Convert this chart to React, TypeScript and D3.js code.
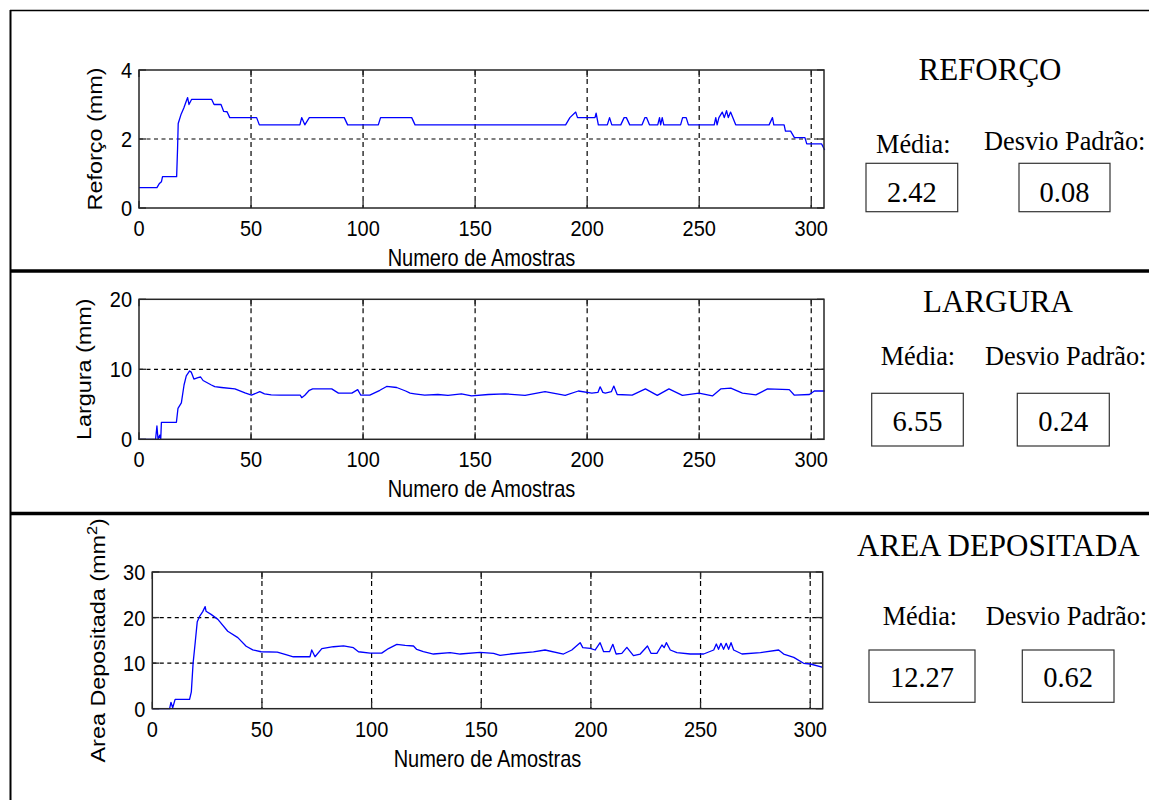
import React from 'react';
import * as d3 from 'd3';

// ---------- data ----------
const sampleTicks = [0, 50, 100, 150, 200, 250, 300];
const reforcoTicks = [0, 2, 4];
const larguraTicks = [0, 10, 20];
const areaTicks = [0, 10, 20, 30];

const reforcoX = [0, 8, 9, 10, 10.5, 16.8, 17.2, 17.5, 18.8, 20, 21, 21.7, 22.3, 23.5, 32.4, 33.5, 36.6, 37.8, 39.3, 40.5, 52.5, 53.7, 71.8, 72.6, 74, 76, 91.6, 93.1, 106.8, 107.8, 121.7, 123.2, 190.4, 192.3, 194.9, 195.7, 203.5, 204, 205, 209, 210, 211, 215, 216.5, 217.5, 219, 224.5, 225.8, 226.5, 227.8, 231.5, 232.3, 232.8, 233.5, 234.2, 241.7, 242.6, 244.2, 245.2, 256.7, 257.4, 258, 258.8, 260.3, 261.2, 262.2, 263, 264, 266.3, 281.2, 282.7, 283.3, 287.9, 288.5, 290.8, 292.5, 297.2, 298, 304.6, 306];
const reforcoY = [0.59, 0.59, 0.7, 0.76, 0.91, 0.91, 1.7, 2.45, 2.72, 2.9, 3.08, 3.2, 3.0, 3.15, 3.15, 3.0, 3.0, 2.8, 2.79, 2.62, 2.62, 2.41, 2.41, 2.62, 2.41, 2.62, 2.62, 2.41, 2.41, 2.62, 2.62, 2.41, 2.41, 2.62, 2.78, 2.62, 2.62, 2.75, 2.41, 2.41, 2.62, 2.41, 2.41, 2.62, 2.62, 2.41, 2.41, 2.62, 2.62, 2.41, 2.41, 2.62, 2.41, 2.62, 2.41, 2.41, 2.62, 2.62, 2.41, 2.41, 2.62, 2.41, 2.62, 2.78, 2.62, 2.82, 2.62, 2.78, 2.41, 2.41, 2.62, 2.41, 2.41, 2.23, 2.23, 2.04, 2.04, 1.86, 1.86, 1.68];

const larguraX = [0, 7.4, 8, 8.5, 9.3, 9.7, 10, 16.7, 17.4, 18.9, 20.1, 21.1, 22.6, 23.3, 24.5, 26.3, 27.5, 28.6, 32.3, 33.8, 36.8, 42.8, 47.3, 50.2, 53.9, 56, 59, 63, 72, 72.6, 74, 76, 77.5, 86, 89, 95, 97.6, 99, 103, 107.5, 110.5, 115, 119, 121, 123, 127.5, 133.4, 137.9, 143.9, 148.4, 155.9, 163.3, 172.3, 181.2, 190.2, 196.1, 202.1, 204.8, 205.8, 207, 208.1, 210.8, 211.9, 213.4, 220.1, 226, 231.3, 236.5, 242.5, 249.9, 255.9, 259.6, 264.1, 269.3, 275.3, 280.5, 290.2, 292.5, 299.2, 301.4, 306];
const larguraY = [0, 0, 1.9, 0, 0.6, 0, 2.43, 2.43, 4.43, 5.2, 7.76, 9.05, 9.76, 9.6, 8.6, 8.8, 8.9, 8.4, 7.76, 7.52, 7.4, 7.2, 6.62, 6.3, 6.8, 6.5, 6.35, 6.3, 6.3, 5.95, 6.3, 7.0, 7.2, 7.2, 6.6, 6.6, 7.1, 6.3, 6.3, 7.0, 7.55, 7.4, 6.9, 6.6, 6.5, 6.3, 6.4, 6.28, 6.5, 6.2, 6.4, 6.5, 6.28, 6.8, 6.28, 6.9, 6.6, 6.7, 7.5, 6.7, 6.6, 6.8, 7.6, 6.4, 6.3, 7.2, 6.28, 7.2, 6.28, 6.6, 6.2, 7.2, 7.3, 6.6, 6.35, 7.2, 7.1, 6.3, 6.4, 6.9, 6.9];

const areaX = [0, 7.9, 8.5, 9.3, 10.4, 17, 17.8, 18.6, 19.6, 20.5, 21.5, 23, 24.1, 24.5, 26.8, 29.9, 34.4, 39, 42.8, 45.8, 49.6, 57, 61.3, 64.3, 71.9, 72.7, 74.2, 77.3, 82.6, 87.2, 91.7, 94, 99.3, 104.6, 107.7, 111.5, 115.3, 119.1, 120.6, 123.6, 128.2, 135.8, 140.4, 149.5, 155.6, 158.6, 163.2, 173.8, 179.1, 187.5, 191.3, 195.1, 196.3, 199.7, 201.9, 204.2, 205.8, 208.5, 210, 211.5, 214.1, 216.4, 219.4, 222.5, 225.8, 227.4, 230.1, 232.4, 233.4, 234.4, 236.2, 239.2, 245.3, 251.4, 256, 257.2, 258.2, 259.3, 260.5, 261.7, 262.8, 263.9, 265.1, 268.9, 277.3, 285.6, 287.9, 292.5, 297, 300.1, 305.8];
const areaY = [0, 0, 1.4, 0.2, 2.06, 2.06, 3.7, 9.96, 14.7, 19.1, 20.2, 21.3, 22.4, 21.4, 20.7, 19.6, 17.0, 15.6, 13.7, 12.9, 12.5, 12.4, 11.8, 11.4, 11.4, 12.9, 11.4, 13.2, 13.6, 13.8, 13.4, 12.5, 12.2, 12.2, 13.2, 14.1, 13.9, 13.76, 13.0, 12.52, 12.0, 12.3, 12.0, 12.37, 12.15, 11.7, 12.0, 12.45, 12.88, 12.0, 12.88, 14.49, 13.4, 13.25, 12.88, 14.49, 12.52, 12.52, 14.13, 12.0, 12.15, 13.47, 11.63, 12.0, 13.76, 12.15, 12.15, 13.98, 13.4, 14.49, 12.88, 12.3, 12.0, 12.0, 12.88, 14.2, 13.03, 14.34, 13.03, 14.34, 13.03, 14.49, 12.88, 12.0, 12.3, 12.88, 12.0, 11.27, 9.96, 9.81, 9.08];

const titles = ['REFORÇO', 'LARGURA', 'AREA DEPOSITADA'];
const mediaValues = ['2.42', '6.55', '12.27'];
const desvioValues = ['0.08', '0.24', '0.62'];
const yLabels = ['Reforço (mm)', 'Largura (mm)', 'Area Depositada (mm'];
const xLabel = 'Numero de Amostras';
const mediaLabel = 'Média:';
const desvioLabel = 'Desvio Padrão:';

// ---------- layout ----------
const SANS = '"Liberation Sans", Arial, Helvetica, sans-serif';
const SERIF = '"Liberation Serif", "Times New Roman", Times, serif';
const X_MAX = 305.7;

type Box = { l: number; r: number; t: number; b: number };

const panels = [
  { box: { l: 139, r: 824, t: 70, b: 208 }, xs: reforcoX, ys: reforcoY, yMax: 4, yTicks: reforcoTicks, yLabelX: 101.6, sup: false },
  { box: { l: 139, r: 824, t: 299.3, b: 439.3 }, xs: larguraX, ys: larguraY, yMax: 20, yTicks: larguraTicks, yLabelX: 91, sup: false },
  { box: { l: 152.3, r: 822.7, t: 572, b: 708.7 }, xs: areaX, ys: areaY, yMax: 30, yTicks: areaTicks, yLabelX: 105, sup: true },
];

const sideLayout = [
  { titleX: 990, titleY: 80, mediaX: 876, mediaY: 153, desvioX: 984, desvioY: 150, box1: [866, 163.3, 91.7, 48.4], box2: [1019, 163.3, 91, 48.4], numY: 201.7 },
  { titleX: 998, titleY: 311.7, mediaX: 880.7, mediaY: 365, desvioX: 985, desvioY: 365, box1: [871.7, 393.3, 91.6, 52.7], box2: [1017.3, 393.3, 92, 52.7], numY: 430.7 },
  { titleX: 998.4, titleY: 556, mediaX: 882.7, mediaY: 625, desvioX: 985.7, desvioY: 625, box1: [869, 650, 106, 52.3], box2: [1022.3, 650, 91.7, 52.3], numY: 686.7 },
];

function Panel({ box, xs, ys, yMax, yTicks, yLabel, yLabelX, sup }: {
  box: Box; xs: number[]; ys: number[]; yMax: number; yTicks: number[]; yLabel: string; yLabelX: number; sup: boolean;
}) {
  const x = d3.scaleLinear().domain([0, X_MAX]).range([box.l, box.r]);
  const y = d3.scaleLinear().domain([0, yMax]).range([box.b, box.t]);
  const pts: [number, number][] = xs.map((v, i) => [v, ys[i]]);
  const path = d3.line<[number, number]>().x(d => x(d[0])).y(d => y(d[1]))(pts) || '';
  const axisColor = '#262626';
  const tickLen = 7;
  return (
    <g>
      <rect x={box.l} y={box.t} width={box.r - box.l} height={box.b - box.t} fill="#fff" />
      {/* grid */}
      {sampleTicks.filter(t => t > 0).map(t => (
        <line key={'gx' + t} x1={x(t)} x2={x(t)} y1={box.t} y2={box.b} stroke="#000" strokeWidth={1.2} strokeDasharray="5,4" />
      ))}
      {yTicks.filter(t => t > 0 && t < yMax).map(t => (
        <line key={'gy' + t} x1={box.l} x2={box.r} y1={y(t)} y2={y(t)} stroke="#000" strokeWidth={1.2} strokeDasharray="4,3.5" />
      ))}
      {/* data line */}
      <path d={path} fill="none" stroke="#0000ff" strokeWidth={1.3} strokeLinejoin="round" />
      {/* ticks */}
      {sampleTicks.map(t => (
        <g key={'tx' + t}>
          <line x1={x(t)} x2={x(t)} y1={box.b} y2={box.b - tickLen} stroke={axisColor} strokeWidth={1.3} />
          <line x1={x(t)} x2={x(t)} y1={box.t} y2={box.t + tickLen} stroke={axisColor} strokeWidth={1.3} />
          <text transform={`translate(${x(t)},${box.b + 28}) scale(1,1.08)`} textAnchor="middle" fontFamily={SANS} fontSize={20} fill="#000">{t}</text>
        </g>
      ))}
      {yTicks.map(t => (
        <g key={'ty' + t}>
          <line x1={box.l} x2={box.l + tickLen} y1={y(t)} y2={y(t)} stroke={axisColor} strokeWidth={1.3} />
          <line x1={box.r} x2={box.r - tickLen} y1={y(t)} y2={y(t)} stroke={axisColor} strokeWidth={1.3} />
          <text transform={`translate(${box.l - 7},${y(t) + 8}) scale(1,1.08)`} textAnchor="end" fontFamily={SANS} fontSize={20} fill="#000">{t}</text>
        </g>
      ))}
      <rect x={box.l} y={box.t} width={box.r - box.l} height={box.b - box.t} fill="none" stroke={axisColor} strokeWidth={1.5} />
      {/* labels */}
      <text transform={`translate(${(box.l + box.r) / 2},${box.b + 58}) scale(1,1.17)`} textAnchor="middle" fontFamily={SANS} fontSize={20} fill="#000">{xLabel}</text>
      <text transform={`translate(${yLabelX},${(box.t + box.b) / 2}) rotate(-90) scale(1.17,1)`} textAnchor="middle" fontFamily={SANS} fontSize={20} fill="#000">
        {sup ? (
          <>
            <tspan>{yLabel}</tspan>
            <tspan dy={-8} fontSize={14}>2</tspan>
            <tspan dy={8}>)</tspan>
          </>
        ) : yLabel}
      </text>
    </g>
  );
}

export default function App() {
  return (
    <svg width={1149} height={800} style={{ position: 'absolute', left: 0, top: 0, background: '#fff' }}>
      <rect x={0} y={0} width={1149} height={800} fill="#fff" />
      {panels.map((p, i) => (
        <Panel key={i} box={p.box} xs={p.xs} ys={p.ys} yMax={p.yMax} yTicks={p.yTicks} yLabel={yLabels[i]} yLabelX={p.yLabelX} sup={p.sup} />
      ))}
      {sideLayout.map((s, i) => (
        <g key={'s' + i} fontFamily={SERIF} fill="#000">
          <text x={s.titleX} y={s.titleY} textAnchor="middle" fontSize={31}>{titles[i]}</text>
          <text x={s.mediaX} y={s.mediaY} fontSize={26.3}>{mediaLabel}</text>
          <text x={s.desvioX} y={s.desvioY} fontSize={26.3}>{desvioLabel}</text>
          <rect x={s.box1[0]} y={s.box1[1]} width={s.box1[2]} height={s.box1[3]} fill="none" stroke="#333" strokeWidth={1.2} />
          <rect x={s.box2[0]} y={s.box2[1]} width={s.box2[2]} height={s.box2[3]} fill="none" stroke="#333" strokeWidth={1.2} />
          <text x={s.box1[0] + s.box1[2] / 2} y={s.numY} textAnchor="middle" fontSize={28.5}>{mediaValues[i]}</text>
          <text x={s.box2[0] + s.box2[2] / 2} y={s.numY} textAnchor="middle" fontSize={28.5}>{desvioValues[i]}</text>
        </g>
      ))}
      {/* table frame */}
      <line x1={10} x2={1149} y1={10.5} y2={10.5} stroke="#000" strokeWidth={1.6} />
      <line x1={10.5} x2={10.5} y1={10} y2={800} stroke="#000" strokeWidth={2} />
      <line x1={10} x2={1149} y1={271} y2={271} stroke="#000" strokeWidth={3.5} />
      <line x1={10} x2={1149} y1={513.5} y2={513.5} stroke="#000" strokeWidth={3.5} />
    </svg>
  );
}
